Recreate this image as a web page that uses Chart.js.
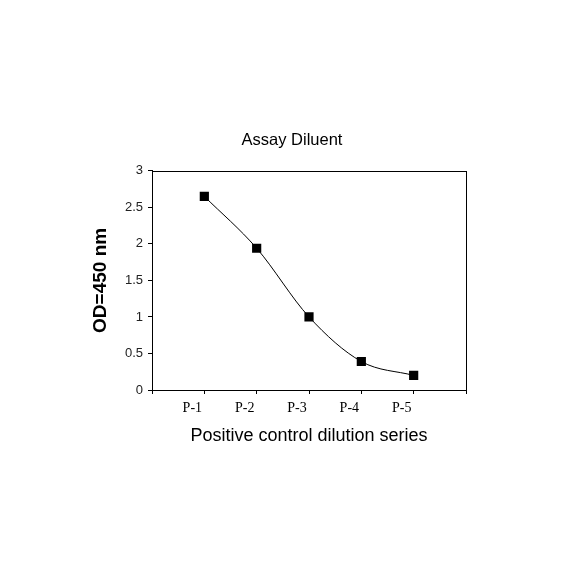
<!DOCTYPE html>
<html>
<head>
<meta charset="utf-8">
<title>Assay Diluent</title>
<script src="https://cdn.jsdelivr.net/npm/chart.js@4/dist/chart.umd.min.js"></script>
<style>
  body { margin: 0; background: #fff; }
  canvas { display: block; }
</style>
</head>
<body>
<canvas id="myChart" width="584" height="584"></canvas>
<script>
  /* data */
  var dilutions = ["P-1", "P-2", "P-3", "P-4", "P-5"];
  var odValues = [2.65, 1.94, 1.0, 0.39, 0.2];
  var yTicks = [0, 0.5, 1, 1.5, 2, 2.5, 3];

  var points = dilutions.map(function(name, i) {
    return { x: i + 1, y: odValues[i] };
  });

  /* box around the plot area */
  var frame = {
    id: 'frame',
    afterDraw: function(chart) {
      var a = chart.chartArea;
      var c = chart.ctx;
      c.save();
      c.strokeStyle = '#000';
      c.lineWidth = 1;
      c.strokeRect(Math.round(a.left) + 0.5, Math.round(a.top) + 0.5,
                   Math.round(a.right - a.left), Math.round(a.bottom - a.top));
      c.restore();
    }
  };

  var ctx = document.getElementById('myChart').getContext('2d');
  var myChart = new Chart(ctx, {
    type: 'line',
    plugins: [frame],
    data: {
      datasets: [{
        label: 'OD',
        data: points,
        borderColor: '#000',
        borderWidth: 1,
        backgroundColor: '#000',
        pointStyle: 'rect',
        pointRadius: 6.5,
        pointBorderWidth: 0,
        cubicInterpolationMode: 'monotone',
        yAxisID: 'y'
      }]
    },
    options: {
      responsive: false,
      animation: false,
      layout: { padding: 0 },
      plugins: {
        legend: { display: false },
        tooltip: { enabled: false },
        title: {
          display: true,
          text: 'Assay Diluent',
          color: '#000',
          font: { family: 'Liberation Sans', size: 16.5, weight: 'normal' },
          padding: { top: 131, bottom: 20 }
        }
      },
      scales: {
        x: {
          type: 'linear',
          min: 0,
          max: 6,
          afterFit: function(s) { s.height = 194; },
          afterBuildTicks: function(s) {
            s.ticks = [0, 1, 2, 3, 4, 5, 6].map(function(v) { return { value: v }; });
          },
          ticks: {
            color: '#000',
            font: { family: 'Liberation Serif', size: 14 },
            padding: 6,
            labelOffset: -12,
            maxRotation: 0,
            callback: function(v) { return dilutions[v - 1] || ''; }
          },
          grid: { display: true, drawOnChartArea: false, drawTicks: true, tickLength: 4, color: '#000' },
          border: { display: true, color: '#000' },
          title: {
            display: true,
            text: 'Positive control dilution series',
            color: '#000',
            font: { family: 'Liberation Sans', size: 18 },
            padding: { top: 0, bottom: 137 }
          }
        },
        y: {
          position: 'left',
          min: 0,
          max: 3,
          afterFit: function(s) { s.width = 152; },
          afterBuildTicks: function(s) {
            s.ticks = yTicks.map(function(v) { return { value: v }; });
          },
          ticks: {
            color: '#222',
            font: { family: 'Liberation Sans', size: 13 },
            padding: 5,
            callback: function(v) { return String(v); }
          },
          grid: { display: true, drawOnChartArea: false, drawTicks: true, tickLength: 4, color: '#000' },
          border: { display: true, color: '#000' },
          title: {
            display: true,
            text: 'OD=450 nm',
            color: '#000',
            font: { family: 'Liberation Sans', size: 19, weight: 'bold' },
            padding: { top: 89, bottom: 0 }
          }
        },
        y2: {
          position: 'right',
          display: true,
          afterFit: function(s) { s.width = 118; },
          ticks: { display: false },
          grid: { display: false },
          border: { display: false }
        }
      }
    }
  });
</script>
</body>
</html>
